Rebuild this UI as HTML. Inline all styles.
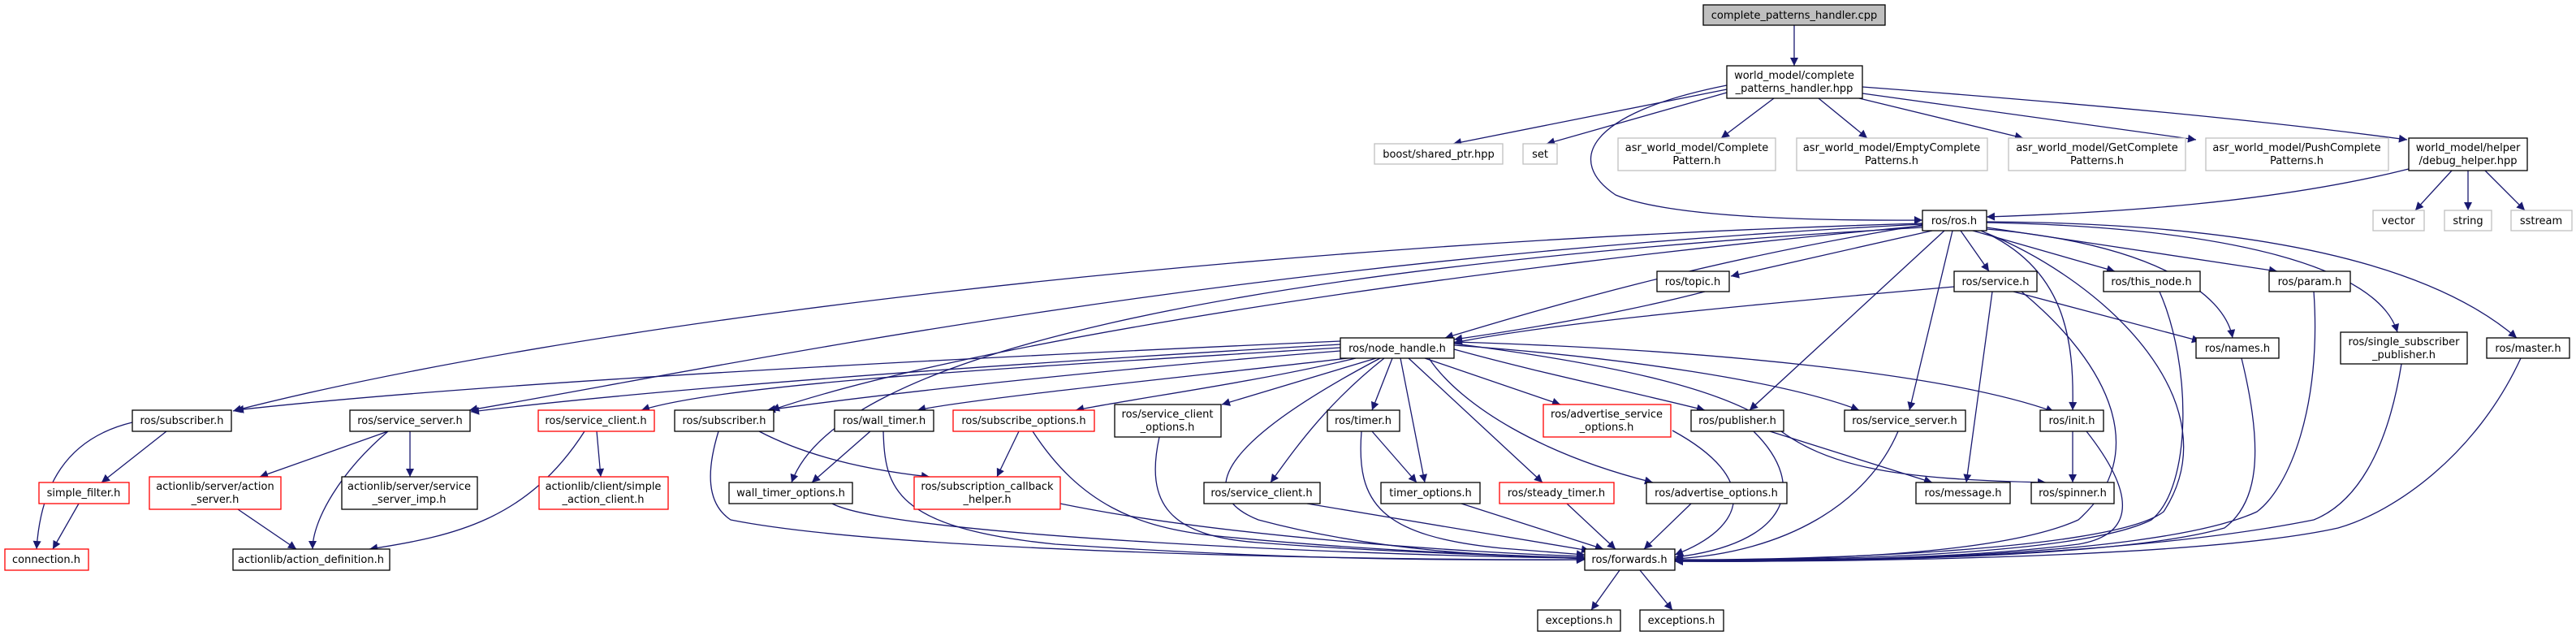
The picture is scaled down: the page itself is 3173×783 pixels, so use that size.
<!DOCTYPE html>
<html><head><meta charset="utf-8"><style>
html,body{margin:0;padding:0;background:#fff;}
svg{display:block;}
text{font-family:"DejaVu Sans","Liberation Sans",sans-serif;font-size:13px;fill:#000;text-anchor:middle;}
.e{fill:none;stroke:#191970;stroke-width:1.3;marker-end:url(#a);}
.n{fill:#fff;stroke:#000;stroke-width:1.3;}
.g{fill:#fff;stroke:#bfbfbf;stroke-width:1.3;}
.r{fill:#fff;stroke:#ff0000;stroke-width:1.3;}
</style></head><body>
<svg width="3173" height="783" viewBox="0 0 3173 783" xmlns="http://www.w3.org/2000/svg">
<defs><marker id="a" viewBox="0 0 10 10" refX="10" refY="5" markerWidth="14" markerHeight="10" markerUnits="userSpaceOnUse" orient="auto"><path d="M0 0L10 5L0 10z" fill="#191970"/></marker></defs>
<g>
<path class="e" d="M2210 31L2210 81"/>
<path class="e" d="M2127 110L1790 177"/>
<path class="e" d="M2127 114L1905 177"/>
<path class="e" d="M2185 121L2120 170"/>
<path class="e" d="M2240 121L2300 170"/>
<path class="e" d="M2290 121L2492 170"/>
<path class="e" d="M2294 115L2705 172"/>
<path class="e" d="M2294 107C2600 130 2800 150 2965 172"/>
<path class="e" d="M2127 105C1950 140 1930 200 1990 240C2050 265 2200 272 2368 271"/>
<path class="e" d="M2967 208C2800 250 2600 262 2447 267"/>
<path class="e" d="M3020 210L2975 259"/>
<path class="e" d="M3040 210L3040 259"/>
<path class="e" d="M3061 210L3110 259"/>
<path class="e" d="M2380 284L2132 340"/>
<path class="e" d="M2368 277C2100 320 1900 380 1780 416"/>
<path class="e" d="M2368 275C1500 300 700 400 287 506"/>
<path class="e" d="M2368 276C1500 320 900 450 578 505"/>
<path class="e" d="M2368 278C1800 330 1200 420 950 505"/>
<path class="e" d="M2368 280C1500 330 1030 440 975 594"/>
<path class="e" d="M2415 284L2450 334"/>
<path class="e" d="M2430 284L2605 334"/>
<path class="e" d="M2447 280L2805 334"/>
<path class="e" d="M2447 282C2650 300 2740 360 2750 416"/>
<path class="e" d="M2447 274C2750 280 2930 330 2953 409"/>
<path class="e" d="M2447 273C2800 275 3000 330 3100 416"/>
<path class="e" d="M2395 284L2155 505"/>
<path class="e" d="M2405 284L2352 505"/>
<path class="e" d="M2440 284C2545 330 2555 420 2553 505"/>
<path class="e" d="M2447 287C2600 350 2750 500 2665 630C2600 680 2200 690 2063 689"/>
<path class="e" d="M2100 359C2000 385 1880 405 1791 418"/>
<path class="e" d="M2407 353C2100 380 1900 400 1791 422"/>
<path class="e" d="M2480 359L2710 420"/>
<path class="e" d="M2454 359L2422 594"/>
<path class="e" d="M2490 359C2600 450 2650 560 2560 640C2450 690 2150 690 2063 689"/>
<path class="e" d="M2660 359C2700 450 2700 600 2650 640C2550 690 2150 690 2063 690"/>
<path class="e" d="M2850 359C2860 500 2820 600 2780 630C2650 690 2200 692 2063 690"/>
<path class="e" d="M2761 441C2790 560 2780 620 2740 650C2600 690 2200 692 2063 690"/>
<path class="e" d="M2958 448C2940 560 2900 620 2850 640C2600 690 2200 692 2063 691"/>
<path class="e" d="M3105 441C3050 560 2950 630 2880 650C2700 690 2200 692 2063 691"/>
<path class="e" d="M2180 531L2380 594"/>
<path class="e" d="M2160 531C2230 600 2200 670 2063 686"/>
<path class="e" d="M2338 531C2300 620 2200 680 2063 688"/>
<path class="e" d="M2553 531L2553 594"/>
<path class="e" d="M2570 531C2640 620 2620 660 2560 670C2400 690 2200 690 2063 690"/>
<path class="e" d="M1651 420C1200 440 600 470 290 505"/>
<path class="e" d="M1651 424C1200 450 800 480 580 507"/>
<path class="e" d="M1651 428C1300 450 900 470 790 505"/>
<path class="e" d="M1651 432C1300 460 1050 490 945 505"/>
<path class="e" d="M1660 441C1500 460 1200 490 1130 505"/>
<path class="e" d="M1670 441C1550 470 1400 490 1325 505"/>
<path class="e" d="M1695 441L1505 498"/>
<path class="e" d="M1715 441L1690 505"/>
<path class="e" d="M1725 441L1755 594"/>
<path class="e" d="M1705 441C1630 500 1590 560 1565 594"/>
<path class="e" d="M1735 441L1900 594"/>
<path class="e" d="M1755 441L1922 498"/>
<path class="e" d="M1760 441C1800 500 1900 560 2036 594"/>
<path class="e" d="M1791 430C1900 460 2000 480 2100 505"/>
<path class="e" d="M1791 425C2000 440 2200 470 2290 505"/>
<path class="e" d="M1791 421C2100 430 2400 460 2530 507"/>
<path class="e" d="M1791 423C2000 450 2120 480 2180 520C2250 580 2350 590 2520 594"/>
<path class="e" d="M1700 441C1550 520 1450 600 1550 640C1700 680 1850 685 1952 687"/>
<path class="e" d="M163 520C80 540 50 600 45 676"/>
<path class="e" d="M205 531L125 594"/>
<path class="e" d="M97 620L65 676"/>
<path class="e" d="M478 531L320 587"/>
<path class="e" d="M505 531L505 587"/>
<path class="e" d="M478 531C420 580 385 640 385 676"/>
<path class="e" d="M293 627L365 676"/>
<path class="e" d="M735 531L740 587"/>
<path class="e" d="M720 531C650 640 560 660 455 676"/>
<path class="e" d="M885 531C870 580 870 620 900 640C1100 680 1700 690 1952 689"/>
<path class="e" d="M935 531C1000 565 1080 580 1145 587"/>
<path class="e" d="M1072 531L1000 594"/>
<path class="e" d="M1088 531C1090 600 1100 650 1300 670C1600 690 1800 690 1952 689"/>
<path class="e" d="M1025 620C1100 660 1700 685 1952 687"/>
<path class="e" d="M1255 531L1228 587"/>
<path class="e" d="M1272 531C1330 620 1400 650 1500 660C1700 680 1900 685 1952 687"/>
<path class="e" d="M1306 620C1500 660 1800 680 1952 685"/>
<path class="e" d="M1428 538C1410 620 1440 660 1550 668C1700 680 1900 685 1952 688"/>
<path class="e" d="M1677 531C1670 620 1700 660 1850 675L1952 683"/>
<path class="e" d="M1690 531L1745 594"/>
<path class="e" d="M1610 620L1958 678"/>
<path class="e" d="M1800 620L1975 676"/>
<path class="e" d="M1930 620L1990 676"/>
<path class="e" d="M2083 620L2025 676"/>
<path class="e" d="M2060 530C2170 590 2150 650 2063 683"/>
<path class="e" d="M1995 702L1960 751"/>
<path class="e" d="M2020 702L2060 751"/>
</g>
<g>
<rect x="2098" y="6" width="224" height="25" fill="#bfbfbf" stroke="#000" stroke-width="1.3"/><text x="2210" y="23">complete_patterns_handler.cpp</text>
<rect class="n" x="2127" y="81" width="167" height="40"/><text x="2210" y="97">world_model/complete</text><text x="2210" y="113">_patterns_handler.hpp</text>
<rect class="g" x="1693" y="177" width="158" height="25"/><text x="1772" y="194">boost/shared_ptr.hpp</text>
<rect class="g" x="1876" y="177" width="42" height="25"/><text x="1897" y="194">set</text>
<rect class="g" x="1993" y="170" width="194" height="40"/><text x="2090" y="186">asr_world_model/Complete</text><text x="2090" y="202">Pattern.h</text>
<rect class="g" x="2213" y="170" width="235" height="40"/><text x="2330" y="186">asr_world_model/EmptyComplete</text><text x="2330" y="202">Patterns.h</text>
<rect class="g" x="2474" y="170" width="218" height="40"/><text x="2583" y="186">asr_world_model/GetComplete</text><text x="2583" y="202">Patterns.h</text>
<rect class="g" x="2717" y="170" width="225" height="40"/><text x="2829" y="186">asr_world_model/PushComplete</text><text x="2829" y="202">Patterns.h</text>
<rect class="n" x="2967" y="170" width="146" height="40"/><text x="3040" y="186">world_model/helper</text><text x="3040" y="202">/debug_helper.hpp</text>
<rect class="n" x="2368" y="259" width="79" height="25"/><text x="2407" y="276">ros/ros.h</text>
<rect class="g" x="2923" y="259" width="63" height="25"/><text x="2954" y="276">vector</text>
<rect class="g" x="3011" y="259" width="58" height="25"/><text x="3040" y="276">string</text>
<rect class="g" x="3093" y="259" width="75" height="25"/><text x="3130" y="276">sstream</text>
<rect class="n" x="2041" y="334" width="89" height="25"/><text x="2085" y="351">ros/topic.h</text>
<rect class="n" x="2407" y="334" width="102" height="25"/><text x="2458" y="351">ros/service.h</text>
<rect class="n" x="2591" y="334" width="119" height="25"/><text x="2650" y="351">ros/this_node.h</text>
<rect class="n" x="2795" y="334" width="100" height="25"/><text x="2845" y="351">ros/param.h</text>
<rect class="n" x="1651" y="416" width="140" height="25"/><text x="1721" y="433">ros/node_handle.h</text>
<rect class="n" x="2705" y="416" width="102" height="25"/><text x="2756" y="433">ros/names.h</text>
<rect class="n" x="2883" y="409" width="156" height="39"/><text x="2961" y="425">ros/single_subscriber</text><text x="2961" y="441">_publisher.h</text>
<rect class="n" x="3063" y="416" width="102" height="25"/><text x="3114" y="433">ros/master.h</text>
<rect class="n" x="163" y="505" width="122" height="26"/><text x="224" y="522">ros/subscriber.h</text>
<rect class="n" x="431" y="505" width="148" height="26"/><text x="505" y="522">ros/service_server.h</text>
<rect class="r" x="663" y="505" width="143" height="26"/><text x="734" y="522">ros/service_client.h</text>
<rect class="n" x="831" y="505" width="122" height="26"/><text x="892" y="522">ros/subscriber.h</text>
<rect class="n" x="1028" y="505" width="122" height="26"/><text x="1089" y="522">ros/wall_timer.h</text>
<rect class="r" x="1174" y="505" width="174" height="26"/><text x="1261" y="522">ros/subscribe_options.h</text>
<rect class="n" x="1373" y="498" width="131" height="40"/><text x="1438" y="514">ros/service_client</text><text x="1438" y="530">_options.h</text>
<rect class="n" x="1635" y="505" width="89" height="26"/><text x="1679" y="522">ros/timer.h</text>
<rect class="r" x="1901" y="498" width="157" height="40"/><text x="1979" y="514">ros/advertise_service</text><text x="1979" y="530">_options.h</text>
<rect class="n" x="2083" y="505" width="114" height="26"/><text x="2140" y="522">ros/publisher.h</text>
<rect class="n" x="2272" y="505" width="149" height="26"/><text x="2346" y="522">ros/service_server.h</text>
<rect class="n" x="2513" y="505" width="78" height="26"/><text x="2552" y="522">ros/init.h</text>
<rect class="r" x="48" y="594" width="111" height="26"/><text x="103" y="611">simple_filter.h</text>
<rect class="r" x="184" y="587" width="162" height="40"/><text x="265" y="603">actionlib/server/action</text><text x="265" y="619">_server.h</text>
<rect class="n" x="421" y="587" width="167" height="40"/><text x="504" y="603">actionlib/server/service</text><text x="504" y="619">_server_imp.h</text>
<rect class="r" x="664" y="587" width="159" height="40"/><text x="743" y="603">actionlib/client/simple</text><text x="743" y="619">_action_client.h</text>
<rect class="n" x="898" y="594" width="152" height="26"/><text x="974" y="611">wall_timer_options.h</text>
<rect class="r" x="1126" y="587" width="180" height="40"/><text x="1216" y="603">ros/subscription_callback</text><text x="1216" y="619">_helper.h</text>
<rect class="n" x="1483" y="594" width="143" height="26"/><text x="1554" y="611">ros/service_client.h</text>
<rect class="n" x="1701" y="594" width="122" height="26"/><text x="1762" y="611">timer_options.h</text>
<rect class="r" x="1847" y="594" width="141" height="26"/><text x="1917" y="611">ros/steady_timer.h</text>
<rect class="n" x="2028" y="594" width="173" height="26"/><text x="2114" y="611">ros/advertise_options.h</text>
<rect class="n" x="2360" y="594" width="116" height="26"/><text x="2418" y="611">ros/message.h</text>
<rect class="n" x="2502" y="594" width="102" height="26"/><text x="2553" y="611">ros/spinner.h</text>
<rect class="r" x="6" y="676" width="103" height="26"/><text x="57" y="693">connection.h</text>
<rect class="n" x="287" y="676" width="193" height="26"/><text x="383" y="693">actionlib/action_definition.h</text>
<rect class="n" x="1952" y="676" width="111" height="26"/><text x="2007" y="693">ros/forwards.h</text>
<rect class="n" x="1894" y="751" width="102" height="26"/><text x="1945" y="768">exceptions.h</text>
<rect class="n" x="2020" y="751" width="103" height="26"/><text x="2071" y="768">exceptions.h</text>
</g>
</svg>
</body></html>
